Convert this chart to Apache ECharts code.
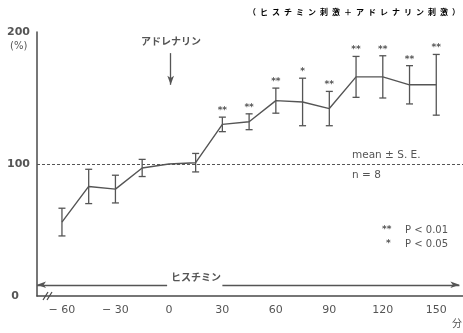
<!DOCTYPE html>
<html>
<head>
<meta charset="utf-8">
<script src="https://cdn.jsdelivr.net/npm/echarts@6/dist/echarts.min.js"></script>
<style>
  html, body { margin: 0; padding: 0; background: #fff; }
  #chart { width: 463px; height: 333px; }
</style>
</head>
<body>
<div id="chart"></div>
<script>
// Sampling times (min) relative to adrenaline injection
const times = [-60, -45, -30, -15, 0, 15, 30, 45, 60, 75, 90, 105, 120, 135, 150];
// Mean response (%) and standard error
const means = [56, 83, 81, 97, 100, 101, 130, 132, 148, 147, 142, 166, 166, 160, 160];
const errors = [10.5, 13, 10.5, 6.5, 0, 7, 5.5, 6, 9.5, 18, 13, 15.5, 16, 14.5, 23];
// Significance markers above each bar
const marks = ['', '', '', '', '', '', '**', '**', '**', '*', '**', '**', '**', '**', '**'];
// Tick labels
const xTicks = [-60, -30, 0, 30, 60, 90, 120, 150];
const yTicks = [0, 100, 200];

const ink = '#4a4a4a';
const numFont = '"DejaVu Sans", "Liberation Sans", sans-serif';
const jpFont = '"Noto Sans CJK JP", "Noto Sans", sans-serif';
const titleText = '（ヒスチミン刺激＋アドレナリン刺激）'.split('').join('\u2002');

const chart = echarts.init(document.getElementById('chart'), null, { renderer: 'canvas' });

const option = {
  animation: false,
  backgroundColor: '#fff',
  grid: { left: 37, right: 0, top: 32, bottom: 37 },
  xAxis: {
    type: 'value',
    min: -74,
    max: 165,
    axisLine: { show: true, onZero: false, lineStyle: { color: ink, width: 1.5 } },
    axisTick: { show: false },
    splitLine: { show: false },
    axisLabel: {
      customValues: xTicks,
      margin: 9,
      fontSize: 11,
      fontFamily: numFont,
      color: '#555',
      formatter: v => (v < 0 ? '\u2212 ' + Math.abs(v) : String(v))
    }
  },
  yAxis: {
    type: 'value',
    min: yTicks[0],
    max: yTicks[yTicks.length - 1],
    interval: 100,
    axisLine: { show: true, onZero: false, lineStyle: { color: ink, width: 1.5 } },
    axisTick: { show: false },
    splitLine: { show: false },
    axisLabel: {
      margin: 7,
      fontSize: 11,
      fontWeight: 'bold',
      fontFamily: numFont,
      color: '#555',
      formatter: v => (v === 0 ? '0\u2003' : String(v))
    }
  },
  series: [
    {
      type: 'line',
      data: times.map((t, i) => [t, means[i]]),
      symbol: 'none',
      lineStyle: { color: '#555', width: 1.4 },
      z: 3,
      markLine: {
        silent: true,
        label: { show: false },
        symbol: 'none',
        lineStyle: { color: '#555', width: 1.2, type: [3, 2] },
        data: [
          { yAxis: 100 },
          // histamine infusion period
          [
            { coord: [-74, 8.5], symbol: 'arrow', symbolSize: [5, 9], lineStyle: { type: 'solid', width: 1.3 } },
            { coord: [-1, 8.5], symbol: 'none' }
          ],
          [
            { coord: [30, 8.5], symbol: 'none', lineStyle: { type: 'solid', width: 1.3 } },
            { coord: [163, 8.5], symbol: 'arrow', symbolSize: [5, 9] }
          ],
          // adrenaline injection
          [
            { coord: [1, 184], symbol: 'none', lineStyle: { type: 'solid', width: 1.3 } },
            { coord: [1, 160], symbol: 'arrow', symbolSize: [5, 9] }
          ]
        ]
      }
    },
    {
      type: 'custom',
      z: 4,
      data: times.map((t, i) => [t, means[i], errors[i], i]),
      renderItem: (params, api) => {
        const t = api.value(0), m = api.value(1), e = api.value(2), idx = api.value(3);
        if (!e) return null;
        const top = api.coord([t, m + e]);
        const bot = api.coord([t, m - e]);
        const w = 3.5;
        const st = { stroke: '#555', lineWidth: 1.3 };
        const children = [
          { type: 'line', shape: { x1: top[0], y1: top[1], x2: bot[0], y2: bot[1] }, style: st },
          { type: 'line', shape: { x1: top[0] - w, y1: top[1], x2: top[0] + w, y2: top[1] }, style: st },
          { type: 'line', shape: { x1: bot[0] - w, y1: bot[1], x2: bot[0] + w, y2: bot[1] }, style: st }
        ];
        if (marks[idx]) {
          children.push({
            type: 'text',
            style: {
              text: marks[idx], x: top[0], y: top[1] - 2,
              textAlign: 'center', textVerticalAlign: 'bottom',
              align: 'center', verticalAlign: 'bottom',
              fontSize: 9, fontWeight: 'bold', fontFamily: numFont, fill: '#555'
            }
          });
        }
        return { type: 'group', children };
      }
    }
  ],
  graphic: [
    { type: 'text', left: 248, top: 8,
      style: { text: titleText, fontSize: 8, fontWeight: 'bold', fontFamily: jpFont, fill: '#000' } },
    { type: 'text', left: 10, top: 41,
      style: { text: '(%)', fontSize: 10, fontFamily: numFont, fill: '#555' } },
    { type: 'text', left: 141, top: 36,
      style: { text: 'アドレナリン', fontSize: 10, fontWeight: 'bold', fontFamily: jpFont, fill: '#555' } },
    { type: 'text', left: 171, top: 272,
      style: { text: 'ヒスチミン', fontSize: 10, fontWeight: 'bold', fontFamily: jpFont, fill: '#555' } },
    { type: 'text', left: 352, top: 150,
      style: { text: 'mean ± S. E.', fontSize: 10.5, fontFamily: numFont, fill: '#555' } },
    { type: 'text', left: 352, top: 170,
      style: { text: 'n = 8', fontSize: 10.5, fontFamily: numFont, fill: '#555' } },
    { type: 'text', left: 382, top: 225,
      style: { text: '**', fontSize: 9, fontWeight: 'bold', fontFamily: numFont, fill: '#555' } },
    { type: 'text', left: 405, top: 225,
      style: { text: 'P < 0.01', fontSize: 10, fontFamily: numFont, fill: '#555' } },
    { type: 'text', left: 386, top: 239,
      style: { text: '*', fontSize: 9, fontWeight: 'bold', fontFamily: numFont, fill: '#555' } },
    { type: 'text', left: 405, top: 239,
      style: { text: 'P < 0.05', fontSize: 10, fontFamily: numFont, fill: '#555' } },
    { type: 'text', left: 452, top: 318,
      style: { text: '分', fontSize: 10, fontFamily: jpFont, fill: '#555' } },
    // axis break
    { type: 'line', shape: { x1: 43, y1: 300, x2: 48, y2: 292 }, style: { stroke: ink, lineWidth: 1.2 } },
    { type: 'line', shape: { x1: 47, y1: 300, x2: 52, y2: 292 }, style: { stroke: ink, lineWidth: 1.2 } }
  ]
};

chart.setOption(option);
</script>
</body>
</html>
